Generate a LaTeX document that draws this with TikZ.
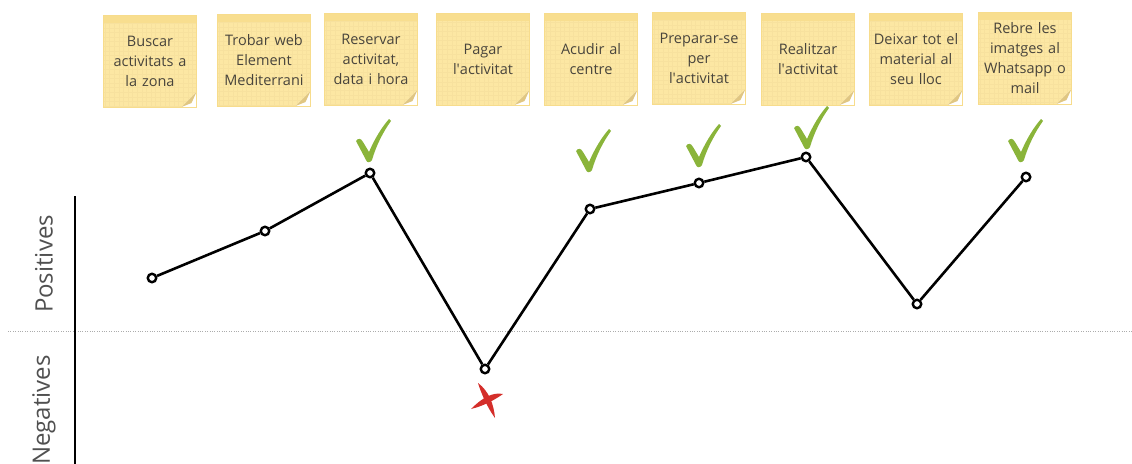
\documentclass[tikz,border=0pt]{standalone}
\usepackage{fontspec}
\setmainfont{Open Sans}
\usetikzlibrary{positioning}
\definecolor{notefill}{RGB}{252,231,163}
\definecolor{noteband}{RGB}{248,222,143}
\definecolor{noteedge}{RGB}{247,220,140}
\definecolor{notegrid}{RGB}{247,225,158}
\definecolor{notefold}{RGB}{224,198,130}
\definecolor{notetext}{RGB}{72,68,60}
\definecolor{tickgreen}{RGB}{138,180,58}
\definecolor{crossred}{RGB}{212,46,42}
\definecolor{axisgray}{RGB}{80,80,80}

\begin{document}
\begin{tikzpicture}[x=1pt, y=-1pt,
  note/.style={minimum width=93pt, minimum height=92pt, inner sep=0pt, fill=notefill, draw=noteedge,
    line width=0.8pt, text width=90pt, align=center, text=notetext, font=\fontsize{14.5}{20}\selectfont,
    path picture={
      \draw[notegrid, line width=0.3pt, step=4.6pt] (path picture bounding box.south west) grid (path picture bounding box.north east);
      \fill[noteband] (path picture bounding box.north west) rectangle ([yshift=-8pt]path picture bounding box.north east);
      \fill[white] (path picture bounding box.south east) -- ++(-15pt,0pt) -- ++(15pt,15pt) -- cycle;
      \fill[notefold] ([xshift=-15pt]path picture bounding box.south east) -- ([yshift=15pt]path picture bounding box.south east)
        -- ([xshift=-5pt,yshift=4pt]path picture bounding box.south east) -- cycle;
    }},
  stage/.style={circle, draw=black, fill=white, line width=2.4pt, minimum size=8.5pt, inner sep=0pt},
  curve/.style={line width=2.6pt, line join=round},
  axislabel/.style={rotate=90, text=axisgray, font=\fontsize{24}{24}\selectfont},
  tick/.pic={\fill[tickgreen] (-14,-19) .. controls (-12,-22) and (-9,-22) .. (-7,-18) -- (-1,-8)
    .. controls (5,-22) and (12,-33) .. (19,-41) .. controls (20,-40) .. (21,-39)
    .. controls (13,-28) and (6,-14) .. (2,0) .. controls (0,3) and (-3,3) .. (-4,0) -- cycle;},
  nope/.pic={\fill[crossred] (-16,9) .. controls (-4,-3) and (6,-8) .. (16,-6) .. controls (6,1) and (-4,6) .. (-16,9) -- cycle;
    \fill[crossred] (-9,-17) .. controls (-6,-7) and (0,7) .. (8,18) .. controls (7,5) and (2,-9) .. (-9,-17) -- cycle;}]
\useasboundingbox (0,0) rectangle (1132,463);

% post-its
\node[note] (n1) at (150,61) {Buscar\\activitats a\\la zona};
\node[note] (n2) at (264,60) {Trobar web\\Element\\Mediterrani};
\node[note] (n3) at (371,59) {Reservar\\activitat,\\data i hora};
\node[note] (n4) at (483,59) {Pagar\\l\textquotesingle activitat};
\node[note] (n5) at (591,59) {Acudir al\\centre};
\node[note] (n6) at (699,58) {Preparar-se\\per\\l\textquotesingle activitat};
\node[note] (n7) at (808,59) {Realitzar\\l\textquotesingle activitat};
\node[note] (n8) at (916,59) {Deixar tot el\\material al\\seu lloc};
\node[note] (n9) at (1025,58) {Rebre les\\imatges al\\Whatsapp o\\mail};

% axes
\coordinate (zl) at (8,331);
\coordinate (zr) at (1132,331);
\coordinate (at) at (75,196);
\coordinate (ab) at (75,466);
\draw[gray!65, line width=0.9pt, dash pattern=on 1pt off 1.4pt] (zl) -- (zr);
\draw[line width=2.4pt] (at) -- (ab);
\node[axislabel] (pos) at (44,264) {Positives};
\node[axislabel] (neg) at (44,410) {Negatives};

% experience curve
\node[stage] (p1) at (152,278) {};
\node[stage] (p2) at (265,231) {};
\node[stage] (p3) at (370,173) {};
\node[stage] (p4) at (485,369) {};
\node[stage] (p5) at (590,209) {};
\node[stage] (p6) at (699,183) {};
\node[stage] (p7) at (806,157) {};
\node[stage] (p8) at (917,304) {};
\node[stage] (p9) at (1026,177) {};
\draw[curve] (p1) -- (p2) -- (p3) -- (p4) -- (p5) -- (p6) -- (p7) -- (p8) -- (p9);

% good / bad
\pic at (370,160) {tick};
\pic at (590,170) {tick};
\pic at (700,165) {tick};
\pic at (808,147) {tick};
\pic at (1022,160) {tick};
\pic at (487,400) {nope};
\end{tikzpicture}
\end{document}
